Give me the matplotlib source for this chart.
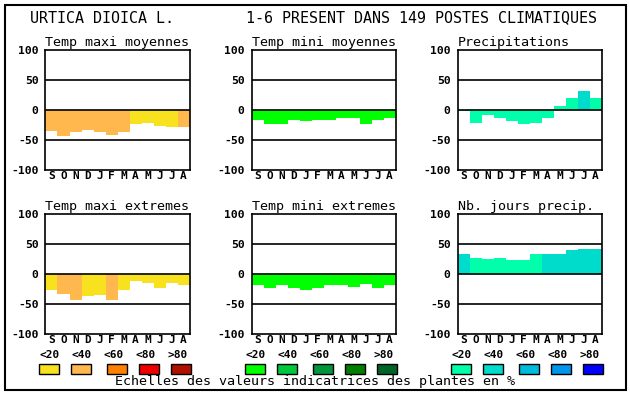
import numpy as np
import matplotlib.pyplot as plt
from matplotlib.patches import Rectangle

W, H = 630, 394
MONO = 'DejaVu Sans Mono'

months = ['S', 'O', 'N', 'D', 'J', 'F', 'M', 'A', 'M', 'J', 'J', 'A']
scale_labels = ['<20', '<40', '<60', '<80', '>80']

titles = ['Temp maxi moyennes', 'Temp mini moyennes', 'Precipitations',
          'Temp maxi extremes', 'Temp mini extremes', 'Nb. jours precip.']

tmax_moy = [-35, -43, -36, -33, -36, -41, -36, -23, -21, -26, -28, -28]
tmin_moy = [-16, -23, -23, -16, -18, -16, -16, -14, -13, -23, -16, -14]
precip = [-2, -21, -8, -14, -18, -23, -21, -14, 6, 20, 31, 20]
tmax_ext = [-26, -33, -43, -36, -35, -43, -26, -11, -15, -23, -15, -18]
tmin_ext = [-18, -24, -18, -23, -26, -24, -18, -18, -21, -16, -23, -18]
nb_jours = [33, 27, 25, 27, 23, 23, 33, 33, 33, 40, 42, 42]

# indicator class of each month (0 = <20 ... 4 = >80)
cls_tmax_moy = [1, 1, 1, 1, 1, 1, 1, 0, 0, 0, 0, 1]
cls_tmin_moy = [0] * 12
cls_precip = [0, 0, 0, 0, 0, 0, 0, 0, 0, 0, 1, 0]
cls_tmax_ext = [0, 1, 1, 0, 0, 1, 0, 0, 0, 0, 0, 0]
cls_tmin_ext = [0] * 12
cls_nb_jours = [1, 0, 0, 0, 0, 0, 0, 1, 1, 1, 1, 1]

pal_tmax = ['#f8e11e', '#ffb84d', '#ff8000', '#ee0000', '#b01000']
pal_tmin = ['#00ff00', '#00c83c', '#00963c', '#007e00', '#006428']
pal_prec = ['#00ffaa', '#00dccc', '#00bcdc', '#0096eb', '#0000ff']

series = [tmax_moy, tmin_moy, precip, tmax_ext, tmin_ext, nb_jours]
classes = [cls_tmax_moy, cls_tmin_moy, cls_precip,
           cls_tmax_ext, cls_tmin_ext, cls_nb_jours]
palettes = [pal_tmax, pal_tmin, pal_prec]

col_x = [45.5, 251.5, 457.5]
row_y = [50, 214]
pw, ph = 144, 120

fig = plt.figure(figsize=(W / 100, H / 100), dpi=100)

# overlay in pixel coordinates for frame, titles and colour scales
bg = fig.add_axes([0, 0, 1, 1])
bg.set_xlim(0, W)
bg.set_ylim(H, 0)
bg.axis('off')
bg.add_patch(Rectangle((4.5, 4.5), 621.5, 385.5, fill=False, lw=1.5, ec='black'))
bg.text(30.5, 18, 'URTICA DIOICA L.', family=MONO, fontsize=10.8,
        va='center', ha='left')
bg.text(246.5, 18, '1-6 PRESENT DANS 149 POSTES CLIMATIQUES', family=MONO,
        fontsize=10.8, va='center', ha='left')
bg.text(115, 381, 'Echelles des valeurs indicatrices des plantes en %',
        family=MONO, fontsize=9.6, va='center', ha='left')

box_off = [-6.5, 25.5, 61.5, 93.5, 125.5]
lab_off = [4, 36, 68, 100, 132]
for c in range(3):
    for k in range(5):
        bg.text(col_x[c] + lab_off[k], 355, scale_labels[k], family=MONO,
                fontsize=8, fontweight='bold', ha='center', va='center')
        bg.add_patch(Rectangle((col_x[c] + box_off[k], 364), 20, 9.5,
                               fc=palettes[c][k], ec='black', lw=1))

for i in range(6):
    r, c = divmod(i, 3)
    x0, y0 = col_x[c], row_y[r]
    ax = fig.add_axes([x0 / W, 1 - (y0 + ph) / H, pw / W, ph / H])
    cols = [palettes[c][k] for k in classes[i]]
    ax.bar(np.arange(12), series[i], width=1.0, align='edge', color=cols,
           zorder=1)
    for yv in (50, 0, -50):
        ax.axhline(yv, color='black', lw=1.2, zorder=3)
    ax.set_xlim(0, 12)
    ax.set_ylim(-100, 100)
    ax.set_yticks([100, 50, 0, -50, -100])
    ax.set_yticklabels(['100', '50', '0', '-50', '-100'], family=MONO,
                       fontsize=8.2, fontweight='bold')
    ax.set_xticks(np.arange(12) + 0.5)
    ax.set_xticklabels(months, family=MONO, fontsize=8, fontweight='bold')
    ax.tick_params(axis='y', length=0, pad=5)
    ax.tick_params(axis='x', length=0, pad=1)
    for s in ax.spines.values():
        s.set_linewidth(1.2)
    ax.set_title(titles[i], family=MONO, fontsize=9.6, loc='left', pad=3)

fig.savefig('out.png', dpi=100)
